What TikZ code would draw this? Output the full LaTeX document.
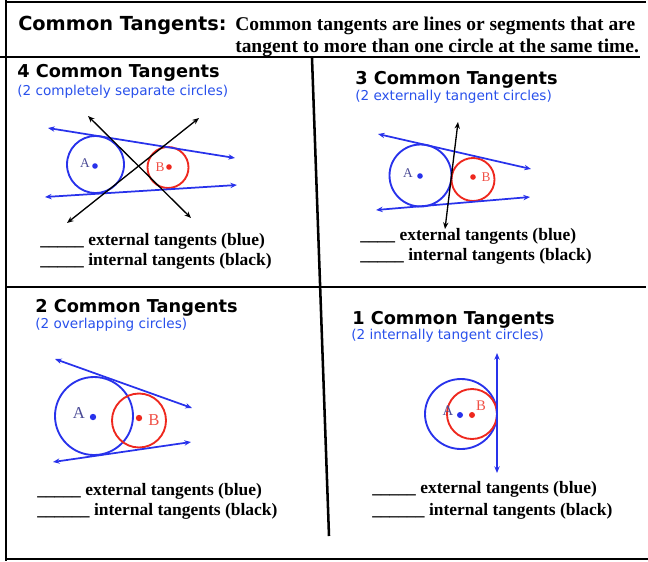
\documentclass[tikz,border=0pt]{standalone}
\usepackage{fontspec}
\setmainfont{Liberation Serif}
\newfontfamily\headfont{DejaVu Sans}
\usetikzlibrary{arrows.meta}
\definecolor{cblue}{RGB}{40,50,235}
\definecolor{cred}{RGB}{238,40,30}
\definecolor{subblue}{RGB}{40,80,235}
\definecolor{labA}{RGB}{75,75,150}
\definecolor{labB}{RGB}{240,80,70}
\begin{document}
\begin{tikzpicture}[x=0.75pt,y=-0.75pt,
  frame/.style={line width=1.9pt,black},
  head/.style={anchor=base west,inner sep=0,font=\headfont\bfseries\fontsize{13.3}{16}\selectfont},
  sub/.style={anchor=base west,inner sep=0,text=subblue,font=\headfont\fontsize{10.2}{12}\selectfont},
  body/.style={anchor=base west,inner sep=0,font=\bfseries\fontsize{13.1}{16}\selectfont},
  circA/.style={draw=cblue,line width=1.4pt},
  circB/.style={draw=cred,line width=1.4pt},
  ext/.style={cblue,line width=1.3pt,{Stealth[length=5pt,width=4pt]}-{Stealth[length=5pt,width=4pt]}},
  intl/.style={black,line width=1pt,{Stealth[length=5pt,width=4pt]}-{Stealth[length=5pt,width=4pt]}},
  dotA/.style={fill=cblue},
  dotB/.style={fill=cred},
  labelA/.style={inner sep=0,text=labA,font=\fontsize{10}{11}\selectfont},
  labelB/.style={inner sep=0,text=labB,font=\fontsize{10}{11}\selectfont}
]
\useasboundingbox (0,0) rectangle (648,561);
% frame
\draw[frame] (5,2) -- (646,2);
\draw[frame] (6,0) -- (6,561);
\draw[frame] (0,57) -- (640,57);
\draw[frame] (5,287) -- (646,287);
\draw[frame] (5,559) -- (648,559);
\draw[frame] (312,58) -- (329,536);

% title
\node[anchor=base west,inner sep=0,font=\headfont\bfseries\fontsize{14.5}{17}\selectfont] (title) at (18,30) {Common Tangents:};
\node[anchor=base west,inner sep=0,font=\bfseries\fontsize{14.6}{17}\selectfont] (def1) at (235,30) {Common tangents are lines or segments that are};
\node[anchor=base west,inner sep=0,font=\bfseries\fontsize{14.6}{17}\selectfont] (def2) at (235,52) {tangent to more than one circle at the same time.};

% ---------- panel 1 ----------
\node[head] (h1) at (17,77) {4 Common Tangents};
\node[sub] (s1) at (17,95) {(2 completely separate circles)};
\draw[circA] (95.5,164.5) circle (28.5);
\draw[circB] (168,167.5) circle (20.5);
\fill[dotA] (95,166) circle (2.8);
\fill[dotB] (169,167) circle (2.8);
\node[labelA] (a1) at (85,163) {A};
\node[labelB] (b1) at (160,167) {B};
\coordinate (p1a) at (48,128); \coordinate (p1b) at (235,158);
\coordinate (p1c) at (45,197); \coordinate (p1d) at (237,185);
\coordinate (p1e) at (88,116); \coordinate (p1f) at (191,218);
\coordinate (p1g) at (199,118); \coordinate (p1h) at (67,223);
\draw[ext] (p1a) -- (p1b);
\draw[ext] (p1c) -- (p1d);
\draw[intl] (p1e) -- (p1f);
\draw[intl] (p1g) -- (p1h);
\node[body] (e1) at (40,245) {\_\_\_\_\_ external tangents (blue)};
\node[body] (i1) at (40,265) {\_\_\_\_\_ internal tangents (black)};

% ---------- panel 2 ----------
\node[head] (h2) at (355,84) {3 Common Tangents};
\node[sub] (s2) at (355,100) {(2 externally tangent circles)};
\draw[circA] (420.5,175.5) circle (31);
\draw[circB] (473,179.5) circle (21.5);
\fill[dotA] (420,176) circle (2.8);
\fill[dotB] (473,177) circle (2.8);
\node[labelA] (a2) at (408,173) {A};
\node[labelB] (b2) at (486,177) {B};
\coordinate (p2a) at (378,134); \coordinate (p2b) at (531,169);
\coordinate (p2c) at (376,210); \coordinate (p2d) at (530,197);
\coordinate (p2e) at (458,122); \coordinate (p2f) at (445,229);
\draw[ext] (p2a) -- (p2b);
\draw[ext] (p2c) -- (p2d);
\draw[intl] (p2e) -- (p2f);
\node[body] (e2) at (360,240) {\_\_\_\_ external tangents (blue)};
\node[body] (i2) at (360,260) {\_\_\_\_\_ internal tangents (black)};

% ---------- panel 3 ----------
\node[head] (h3) at (35,312) {2 Common Tangents};
\node[sub] (s3) at (35,328) {(2 overlapping circles)};
\draw[circA] (94,416) circle (39);
\draw[circB] (139,420.5) circle (27);
\fill[dotA] (93,417) circle (3.2);
\fill[dotB] (139,418) circle (3.2);
\node[labelA,font=\fontsize{12.5}{14}\selectfont] (a3) at (79,413) {A};
\node[labelB,font=\fontsize{12.5}{14}\selectfont] (b3) at (154,420) {B};
\coordinate (p3a) at (55,359); \coordinate (p3b) at (192,408);
\coordinate (p3c) at (53,462); \coordinate (p3d) at (191,442);
\draw[ext] (p3a) -- (p3b);
\draw[ext] (p3c) -- (p3d);
\node[body] (e3) at (37,495) {\_\_\_\_\_ external tangents (blue)};
\node[body] (i3) at (37,515) {\_\_\_\_\_\_ internal tangents (black)};

% ---------- panel 4 ----------
\node[head] (h4) at (352,324) {1 Common Tangents};
\node[sub] (s4) at (351,339) {(2 internally tangent circles)};
\draw[circA] (461,414) ellipse (36 and 35);
\draw[circB] (472,414) circle (25);
\fill[dotA] (460,415) circle (3);
\fill[dotB] (472,415) circle (3);
\node[labelA,font=\fontsize{11}{12}\selectfont] (a4) at (448,411) {A};
\node[labelB,font=\fontsize{11}{12}\selectfont] (b4) at (481,406) {B};
\coordinate (p4a) at (497,353); \coordinate (p4b) at (497,473);
\draw[ext] (p4a) -- (p4b);
\node[body] (e4) at (372,493) {\_\_\_\_\_ external tangents (blue)};
\node[body] (i4) at (372,515) {\_\_\_\_\_\_ internal tangents (black)};
\end{tikzpicture}
\end{document}
